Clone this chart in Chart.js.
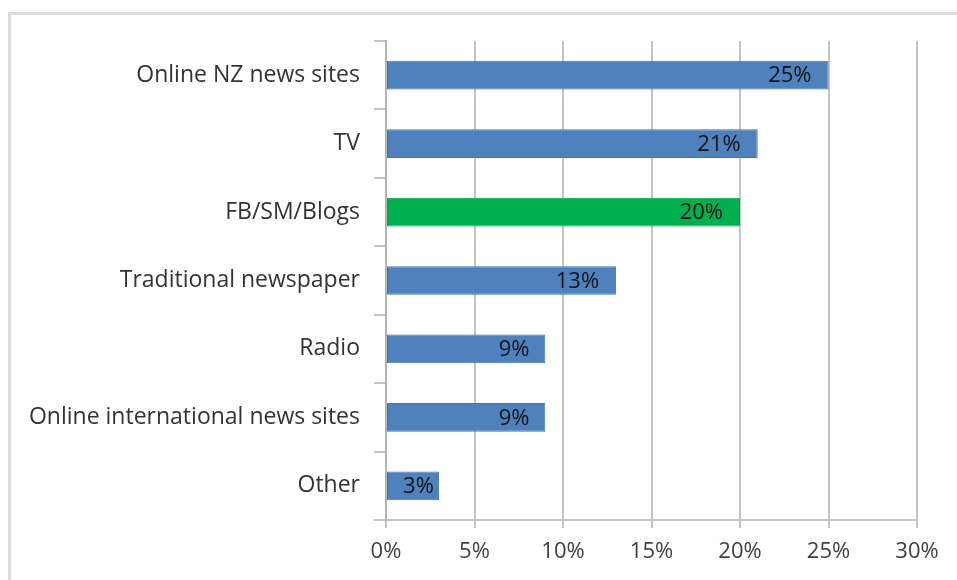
<!DOCTYPE html>
<html>
<head>
<meta charset="utf-8">
<script src="https://cdn.jsdelivr.net/npm/chart.js@4/dist/chart.umd.min.js"></script>
<style>
  html, body { margin: 0; padding: 0; background: #fff; }
  #wrap { width: 957px; height: 580px; position: relative; }
</style>
</head>
<body>
<div id="wrap"><canvas id="sourcesChart" width="957" height="580"></canvas></div>
<script>
// data
const categories = [
    'Online NZ news sites',
    'TV',
    'FB/SM/Blogs',
    'Traditional newspaper',
    'Radio',
    'Online international news sites',
    'Other'
];
const shares = [25, 21, 20, 13, 9, 9, 3];
const barColors = ['#4f81bd', '#4f81bd', '#00b050', '#4f81bd', '#4f81bd', '#4f81bd', '#4f81bd'];
const xTicks = [0, 5, 10, 15, 20, 25, 30];

const FONT = '"Open Sans", sans-serif';

// thin grey frame on top and left like the original screenshot
const framePlugin = {
    id: 'frame',
    beforeDraw(chart) {
        const ctx = chart.ctx;
        ctx.save();
        ctx.fillStyle = '#dcdcdc';
        ctx.fillRect(8, 12, chart.width - 8, 3);
        ctx.fillRect(8, 12, 3, chart.height - 12);
        ctx.restore();
    }
};

// value labels at the inner end of each bar
const valueLabels = {
    id: 'valueLabels',
    afterDatasetsDraw(chart) {
        const ctx = chart.ctx;
        const meta = chart.getDatasetMeta(0);
        ctx.save();
        ctx.font = '22px ' + FONT;
        ctx.fillStyle = '#141414';
        ctx.textAlign = 'right';
        ctx.textBaseline = 'middle';
        meta.data.forEach((bar, i) => {
            const w = bar.x - bar.base;
            const off = Math.min(17, w * 0.1);
            ctx.fillText(shares[i] + '%', bar.x - off, bar.y + 1);
        });
        ctx.restore();
    }
};

new Chart(document.getElementById('sourcesChart'), {
    type: 'bar',
    data: {
        labels: categories,
        datasets: [{
            data: shares,
            backgroundColor: barColors,
            borderColor: barColors.map(c => c === '#00b050' ? '#00a84b' : '#4374b0'),
            borderWidth: 1,
            borderSkipped: false,
            barPercentage: 0.42,
            categoryPercentage: 1
        }]
    },
    options: {
        indexAxis: 'y',
        responsive: false,
        animation: false,
        layout: { padding: { top: 41, left: 10, right: 40, bottom: 0 } },
        plugins: {
            legend: { display: false },
            tooltip: { enabled: false }
        },
        scales: {
            x: {
                min: 0,
                max: 30,
                afterBuildTicks: (scale) => { scale.ticks = xTicks.map(v => ({ value: v })); },
                afterFit: (scale) => { scale.height = 60; },
                grid: { color: '#c4c4c4', lineWidth: 2, tickLength: 8 },
                border: { color: '#c4c4c4', width: 2 },
                ticks: {
                    padding: 11,
                    color: '#404040',
                    font: { family: FONT, size: 22 },
                    callback: (v) => v + '%'
                }
            },
            y: {
                afterFit: (scale) => { scale.width = 376; },
                grid: { drawOnChartArea: false, color: '#c4c4c4', lineWidth: 2, tickLength: 12 },
                border: { color: '#b4b4b4', width: 2 },
                ticks: {
                    padding: 14,
                    color: '#333333',
                    font: { family: FONT, size: 23 }
                }
            }
        }
    },
    plugins: [framePlugin, valueLabels]
});
</script>
</body>
</html>
